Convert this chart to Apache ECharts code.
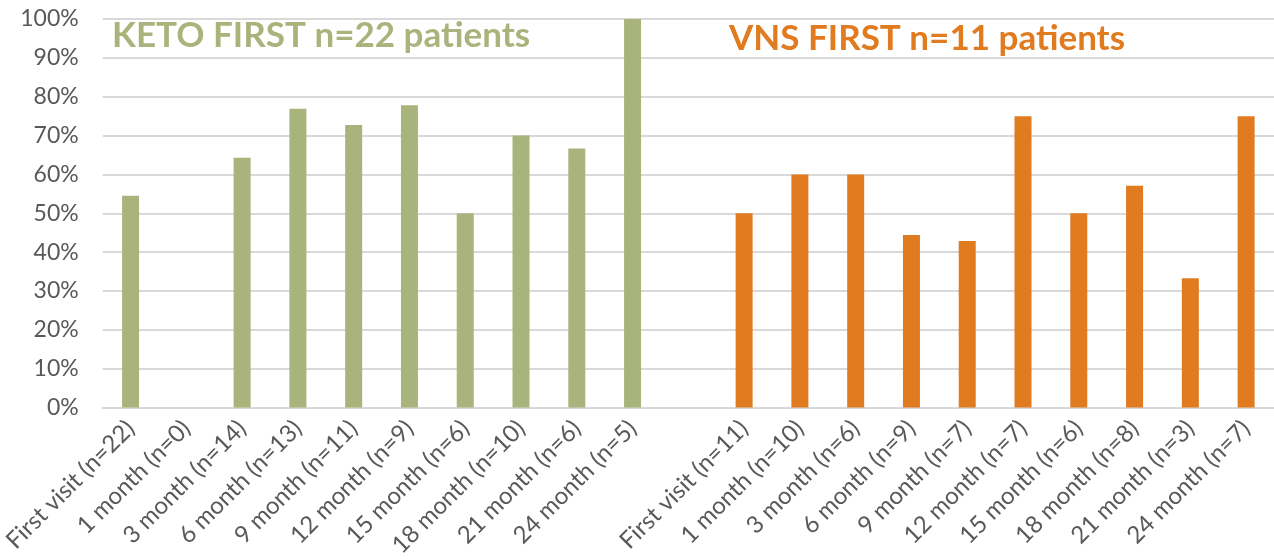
<!DOCTYPE html>
<html>
<head>
<meta charset="utf-8">
<script src="https://cdn.jsdelivr.net/npm/echarts@6/dist/echarts.min.js"></script>
<style>
    html, body { margin: 0; padding: 0; background: #fff; }
    #chart { width: 1274px; height: 560px; }
</style>
</head>
<body>
<div id="chart"></div>
<script>
// keto first group
let ketoLabels = ['First visit (n=22)', '1 month (n=0)', '3 month (n=14)', '6 month (n=13)', '9 month (n=11)',
    '12 month (n=9)', '15 month (n=6)', '18 month (n=10)', '21 month (n=6)', '24 month (n=5)'];
let ketoValues = [54.5, 0, 64.3, 76.9, 72.7, 77.8, 50, 70, 66.7, 100];

// vns first group
let vnsLabels = ['First visit (n=11)', '1 month (n=10)', '3 month (n=6)', '6 month (n=9)', '9 month (n=7)',
    '12 month (n=7)', '15 month (n=6)', '18 month (n=8)', '21 month (n=3)', '24 month (n=7)'];
let vnsValues = [50, 60, 60, 44.4, 42.9, 75, 50, 57.1, 33.3, 75];

let ketoTitle = 'KETO FIRST n=22 patients';
let vnsTitle = 'VNS FIRST n=11 patients';

const GREEN = '#a9b47c';
const ORANGE = '#e07b20';
const FONT = 'Lato, "Open Sans", sans-serif';

// one empty slot between the two groups
let categories = ketoLabels.concat(['']).concat(vnsLabels);
let ketoData = ketoValues.concat(new Array(vnsLabels.length + 1).fill(null));
let vnsData = new Array(ketoLabels.length + 1).fill(null).concat(vnsValues);

let chart = echarts.init(document.getElementById('chart'));
let option = {
    animation: false,
    title: [
        {
            text: ketoTitle, left: 107, top: 13,
            textStyle: {color: GREEN, fontSize: 35, fontWeight: 'bold', fontFamily: FONT}
        },
        {
            text: vnsTitle, left: 724, top: 16,
            textStyle: {color: ORANGE, fontSize: 35, fontWeight: 'bold', fontFamily: FONT}
        }
    ],
    grid: {
        left: 101,
        top: 19,
        bottom: 151,
        width: 1179
    },
    xAxis: {
        type: 'category',
        data: categories,
        axisLine: {lineStyle: {color: '#d9d9d9', width: 2}},
        axisTick: {show: false},
        axisLabel: {
            interval: 0,
            rotate: 45,
            margin: 17,
            color: '#595959',
            fontSize: 24,
            fontFamily: FONT
        }
    },
    yAxis: {
        type: 'value',
        min: 0,
        max: 100,
        interval: 10,
        axisLine: {show: false},
        axisTick: {show: false},
        splitLine: {lineStyle: {color: '#d9d9d9', width: 2}},
        axisLabel: {
            formatter: '{value}%',
            margin: 24,
            color: '#595959',
            fontSize: 23,
            fontFamily: FONT
        }
    },
    series: [
        {
            name: 'keto',
            type: 'bar',
            data: ketoData,
            barWidth: 17,
            barGap: '-100%',
            itemStyle: {color: GREEN}
        },
        {
            name: 'vns',
            type: 'bar',
            data: vnsData,
            barWidth: 17,
            itemStyle: {color: ORANGE}
        }
    ]
};
chart.setOption(option);
</script>
</body>
</html>
